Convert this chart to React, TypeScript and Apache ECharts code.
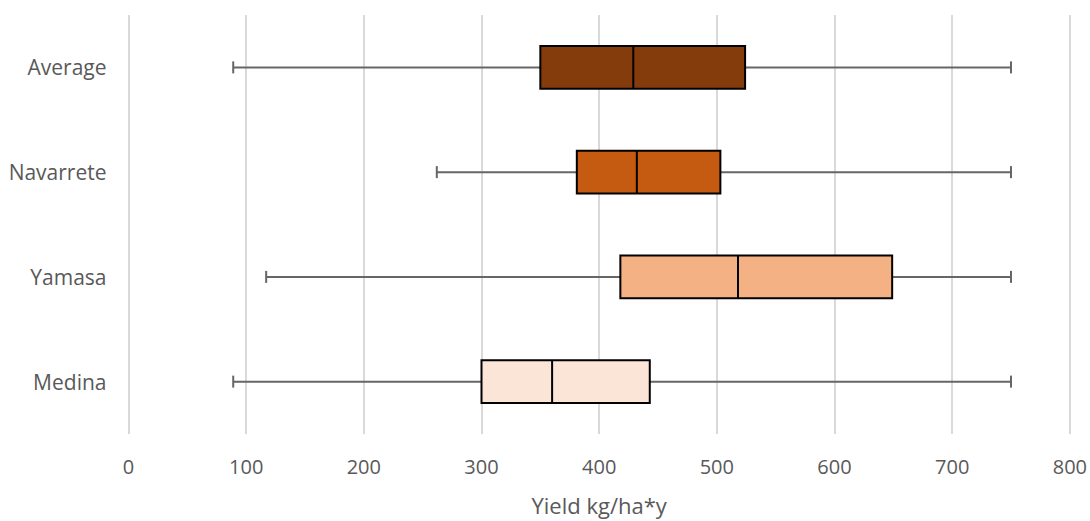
import React, { useEffect, useRef } from "react";
import * as echarts from "echarts";

const categories = ["Medina", "Yamasa", "Navarrete", "Average"];
const minValues = [89, 117, 262, 89];
const q1Values = [300, 418, 381, 350];
const medianValues = [360, 518, 432, 429];
const q3Values = [443, 649, 503, 524];
const maxValues = [750, 750, 750, 750];
const boxColors = ["#FBE5D6", "#F4B183", "#C55A11", "#843C0C"];
const xTicks = [0, 100, 200, 300, 400, 500, 600, 700, 800];

export default function App() {
  const ref = useRef<HTMLDivElement>(null);
  useEffect(() => {
    if (!ref.current) return;
    const chart = echarts.init(ref.current, null, { renderer: "svg" });
    const data = categories.map((_, i) => [
      i,
      minValues[i],
      q1Values[i],
      medianValues[i],
      q3Values[i],
      maxValues[i],
    ]);
    chart.setOption({
      animation: false,
      grid: { left: 128.5, right: 19.5, top: 15, bottom: 83, containLabel: false },
      xAxis: {
        type: "value",
        min: xTicks[0],
        max: xTicks[xTicks.length - 1],
        interval: 100,
        axisLine: { show: false },
        axisTick: { show: false },
        splitLine: { show: true, lineStyle: { color: "#D9D9D9", width: 2 } },
        axisLabel: {
          color: "#595959",
          fontFamily: "Open Sans",
          fontSize: 20,
          margin: 22,
        },
        name: "Yield kg/ha*y",
        nameLocation: "middle",
        nameGap: 60,
        nameTextStyle: { color: "#595959", fontFamily: "Open Sans", fontSize: 22 },
      },
      yAxis: {
        type: "category",
        data: categories,
        axisLine: { show: false },
        axisTick: { show: false },
        splitLine: { show: false },
        axisLabel: {
          color: "#595959",
          fontFamily: "Open Sans",
          fontSize: 21,
          margin: 22,
        },
      },
      series: [
        {
          type: "custom",
          encode: { x: [1, 2, 3, 4, 5], y: 0 },
          data,
          renderItem: (params: any, api: any) => {
            const cat = api.value(0);
            const idx = params.dataIndex;
            const pMin = api.coord([api.value(1), cat]);
            const pQ1 = api.coord([api.value(2), cat]);
            const pMed = api.coord([api.value(3), cat]);
            const pQ3 = api.coord([api.value(4), cat]);
            const pMax = api.coord([api.value(5), cat]);
            const band = api.size([0, 1])[1];
            const boxH = band * 0.41;
            const capH = 12;
            const y = pMed[1];
            const whisk = { stroke: "#666666", lineWidth: 2 };
            const edge = { stroke: "#000000", lineWidth: 2 };
            return {
              type: "group",
              children: [
                { type: "line", shape: { x1: pMin[0], y1: y, x2: pQ1[0], y2: y }, style: whisk },
                { type: "line", shape: { x1: pQ3[0], y1: y, x2: pMax[0], y2: y }, style: whisk },
                { type: "line", shape: { x1: pMin[0], y1: y - capH / 2, x2: pMin[0], y2: y + capH / 2 }, style: whisk },
                { type: "line", shape: { x1: pMax[0], y1: y - capH / 2, x2: pMax[0], y2: y + capH / 2 }, style: whisk },
                {
                  type: "rect",
                  shape: { x: pQ1[0], y: y - boxH / 2, width: pQ3[0] - pQ1[0], height: boxH },
                  style: { fill: boxColors[idx], ...edge },
                },
                { type: "line", shape: { x1: pMed[0], y1: y - boxH / 2, x2: pMed[0], y2: y + boxH / 2 }, style: edge },
              ],
            };
          },
        },
      ],
    });
    return () => chart.dispose();
  }, []);
  return (
    <div
      ref={ref}
      style={{ position: "fixed", left: 0, top: 0, width: 1090, height: 521, background: "#ffffff" }}
    />
  );
}
